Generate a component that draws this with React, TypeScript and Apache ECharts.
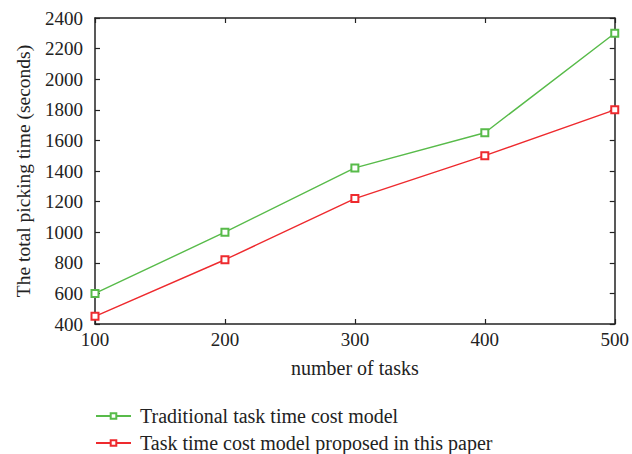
import React, { useEffect, useRef } from "react";
import * as echarts from "echarts";

const tasks = [100, 200, 300, 400, 500];
const traditional = [600, 1000, 1420, 1650, 2300];
const proposed = [450, 820, 1220, 1500, 1800];
const seriesNames = ["Traditional task time cost model", "Task time cost model proposed in this paper"];

const FONT = "'Liberation Serif', 'DejaVu Serif', serif";
const GREEN = "#58bb4a";
const RED = "#ee2a2e";
const INK = "#222";

export default function App() {
  const ref = useRef<HTMLDivElement>(null);
  useEffect(() => {
    document.body.style.margin = "0";
    const chart = echarts.init(ref.current!, null, { renderer: "svg" });
    const axisLine = { show: true, lineStyle: { color: INK, width: 1.5 } };
    const tick = { show: true, inside: true, length: 5, lineStyle: { color: INK, width: 1.2 } };
    const legendBase = {
      orient: "vertical",
      left: 95,
      padding: 0,
      itemWidth: 35,
      itemHeight: 7,
      textStyle: { fontFamily: FONT, fontSize: 20, lineHeight: 20, color: INK, padding: [0, 0, 0, 4] },
    };
    chart.setOption({
      animation: false,
      backgroundColor: "#fff",
      grid: { left: 95, top: 18, right: 14, bottom: 130 },
      legend: [
        { ...legendBase, top: 406, data: [seriesNames[0]] },
        { ...legendBase, top: 433, data: [seriesNames[1]] },
      ],
      xAxis: [
        {
          type: "value",
          min: 100,
          max: 500,
          interval: 100,
          name: "number of tasks",
          nameLocation: "middle",
          nameGap: 34,
          nameTextStyle: { fontFamily: FONT, fontSize: 20, color: INK },
          axisLine,
          axisTick: tick,
          axisLabel: { fontFamily: FONT, fontSize: 19, color: INK, margin: 6, formatter: (v: number) => String(v) },
          splitLine: { show: false },
        },
        {
          type: "value",
          position: "top",
          min: 100,
          max: 500,
          interval: 100,
          axisLine,
          axisTick: tick,
          axisLabel: { show: false },
          splitLine: { show: false },
        },
      ],
      yAxis: [
        {
          type: "value",
          min: 400,
          max: 2400,
          interval: 200,
          name: "The total picking time (seconds)",
          nameLocation: "middle",
          nameGap: 62,
          nameTextStyle: { fontFamily: FONT, fontSize: 19.5, color: INK },
          axisLine,
          axisTick: tick,
          axisLabel: { fontFamily: FONT, fontSize: 19, color: INK, margin: 12, formatter: (v: number) => String(v) },
          splitLine: { show: false },
        },
        {
          type: "value",
          position: "right",
          min: 400,
          max: 2400,
          interval: 200,
          axisLine,
          axisTick: tick,
          axisLabel: { show: false },
          splitLine: { show: false },
        },
      ],
      series: [
        {
          name: seriesNames[0],
          type: "line",
          data: tasks.map((t, i) => [t, traditional[i]]),
          symbol: "emptyRect",
          symbolSize: 7,
          color: GREEN,
          lineStyle: { width: 1.4, color: GREEN },
          itemStyle: { color: GREEN, borderWidth: 1.4 },
        },
        {
          name: seriesNames[1],
          type: "line",
          data: tasks.map((t, i) => [t, proposed[i]]),
          symbol: "emptyRect",
          symbolSize: 7,
          color: RED,
          lineStyle: { width: 1.4, color: RED },
          itemStyle: { color: RED, borderWidth: 1.4 },
        },
      ],
    });
    return () => chart.dispose();
  }, []);
  return <div ref={ref} style={{ width: 632, height: 454 }} />;
}
